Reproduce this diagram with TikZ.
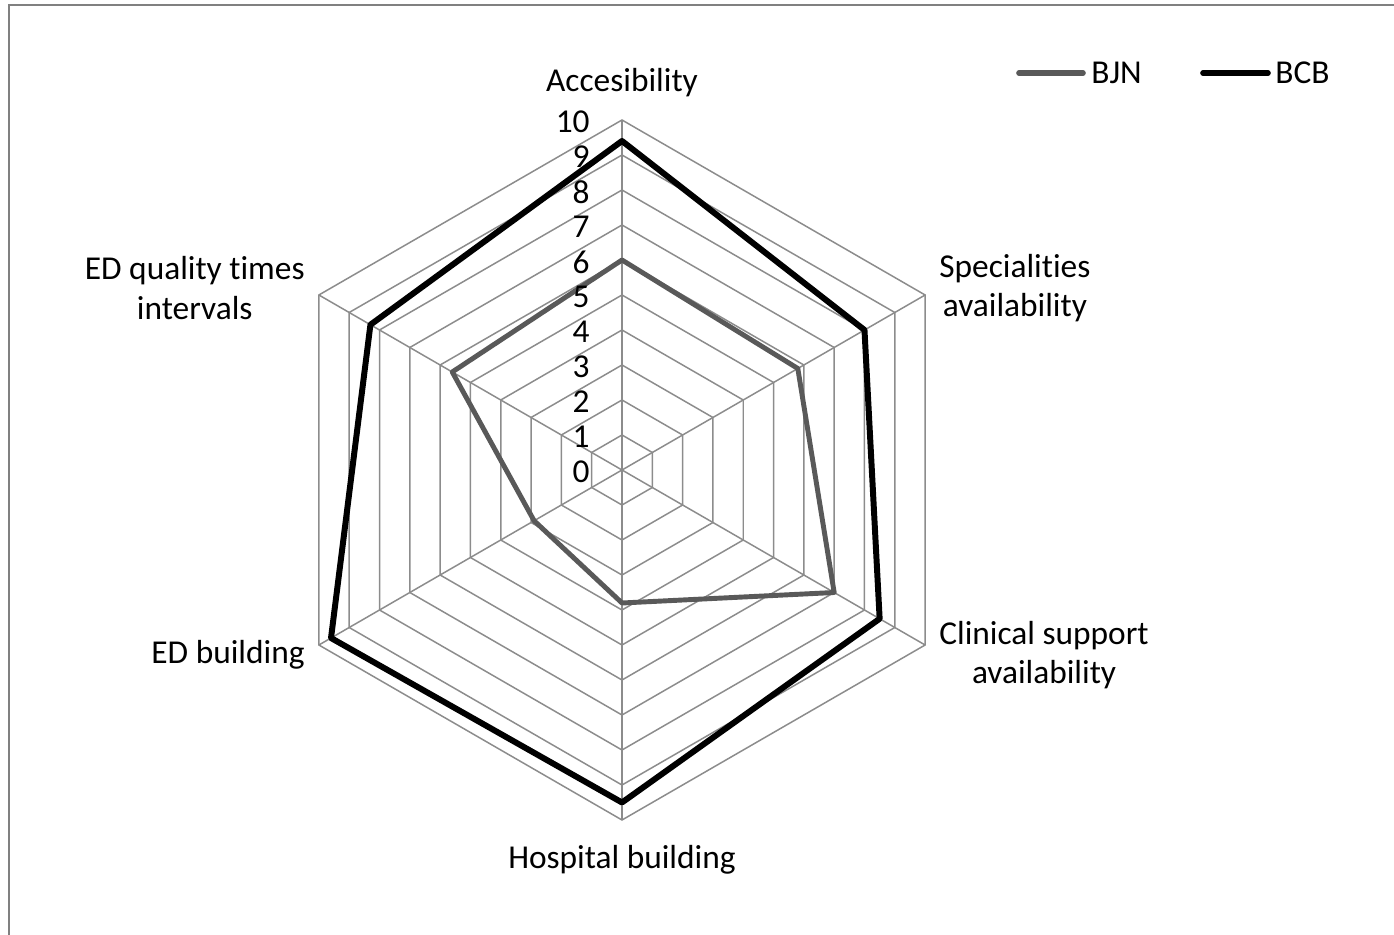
\documentclass[tikz,border=0pt]{standalone}
\usepackage{fontspec}
\setmainfont[Ligatures=NoCommon]{Carlito}
\usepackage{tikz}
\usetikzlibrary{positioning}
\definecolor{gridgray}{HTML}{8C8C8C}
\definecolor{bjngray}{HTML}{595959}
\definecolor{framegray}{HTML}{808080}

\begin{document}
\begin{tikzpicture}[x=0.02cm, y=0.02cm,
        gridline/.style={draw=gridgray, line width=0.85pt},
        bjnline/.style={draw=bjngray, line width=2.8pt, line join=round},
        bcbline/.style={draw=black, line width=3.4pt, line join=round},
        axislabel/.style={font=\fontsize{19}{22.5}\selectfont, align=center, inner sep=0pt},
        ticklabel/.style={font=\fontsize{19}{22.5}\selectfont, anchor=east, inner sep=0pt},
        legendline/.style={line width=3.2pt, line cap=round}
    ]
    \useasboundingbox (0,0) rectangle (1394,934);
    \draw[draw=framegray, line width=1.7pt] (9,929) rectangle (1420,-20);

    \begin{scope}[shift={(622,464)}]
        \coordinate (center) at (0,0);
        \foreach \r in {1,...,10} {
            \pgfmathsetmacro\rr{35*\r}
            \draw[gridline] (90:\rr) -- (30:\rr) -- (-30:\rr) -- (-90:\rr) -- (-150:\rr) -- (150:\rr) -- cycle;
        }
        \foreach \a/\n in {90/acc, 30/spec, -30/clin, -90/hosp, -150/edb, 150/edq}
            \coordinate (\n) at (\a:350);
        \foreach \n in {acc, spec, clin, hosp, edb, edq}
            \draw[gridline] (center) -- (\n);

        \foreach \v [count=\i] in {6.0, 5.8, 7.0, 3.8, 2.9, 5.6} {
            \pgfmathsetmacro\rr{35*\v}
            \coordinate (bjn\i) at ({150-60*\i}:\rr);
        }
        \foreach \v [count=\i] in {9.4, 8.0, 8.5, 9.5, 9.6, 8.3} {
            \pgfmathsetmacro\rr{35*\v}
            \coordinate (bcb\i) at ({150-60*\i}:\rr);
        }
        \draw[bjnline] (bjn1) -- (bjn2) -- (bjn3) -- (bjn4) -- (bjn5) -- (bjn6) -- cycle;
        \draw[bcbline] (bcb1) -- (bcb2) -- (bcb3) -- (bcb4) -- (bcb5) -- (bcb6) -- cycle;

        \foreach \r in {0,...,10}
            \node[ticklabel] (tick\r) at (-32, 35*\r-2) {\r};
    \end{scope}

    \node[axislabel] (accLabel) at (622,851) {Accesibility};
    \node[axislabel, anchor=west] (specLabel) at (939,646) {Specialities\\availability};
    \node[axislabel, anchor=west] (clinLabel) at (939,279) {Clinical support\\availability};
    \node[axislabel] (hospLabel) at (622,74) {Hospital building};
    \node[axislabel, anchor=east] (edbLabel) at (305,279) {ED building};
    \node[axislabel, anchor=east] (edqLabel) at (305,646) {ED quality times\\intervals};

    \coordinate (bjnStart) at (1019,861);
    \coordinate (bjnEnd) at (1083,861);
    \draw[legendline, bjngray] (bjnStart) -- (bjnEnd);
    \node[axislabel, anchor=west] (bjnText) at (1091,861) {BJN};
    \coordinate (bcbStart) at (1203,861);
    \coordinate (bcbEnd) at (1268,861);
    \draw[legendline, black] (bcbStart) -- (bcbEnd);
    \node[axislabel, anchor=west] (bcbText) at (1275,861) {BCB};
\end{tikzpicture}
\end{document}
